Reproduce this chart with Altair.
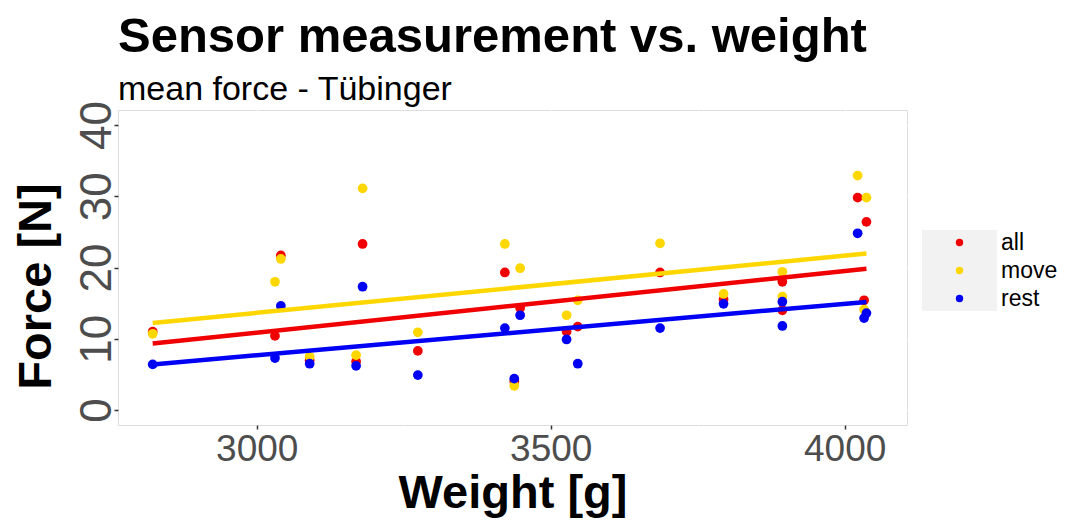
import altair as alt
import pandas as pd

# ---- data ----
weight = [2823, 3031, 3041, 3090, 3169, 3180, 3274, 3422, 3438, 3448,
          3527, 3546, 3686, 3794, 3894, 3894, 4022, 4037, 4033]
force_all = [11.0, 10.4, 21.7, 7.0, 6.8, 23.3, 8.3, 19.3, 4.0, 14.3,
             11.0, 11.7, 19.3, 15.5, 18.0, 14.0, 29.8, 26.4, 15.4]
force_move = [10.7, 18.0, 21.2, 7.5, 7.7, 31.1, 10.9, 23.3, 3.4, 19.9,
              13.3, 15.4, 23.4, 16.3, 19.4, 15.9, 32.9, 29.8, 14.1]
force_rest = [6.4, 7.3, 14.6, 6.5, 6.2, 17.3, 4.9, 11.5, 4.4, 13.3,
              9.9, 6.5, 11.5, 14.9, 15.2, 11.8, 24.8, 13.6, 12.9]

series_names = ["all", "move", "rest"]
series_colors = ["#F00000", "#FFD700", "#0000F5"]

x_ticks = [3000, 3250, 3500, 3750, 4000]
y_ticks = [0, 5, 10, 15, 20, 25, 30, 35, 40]

rows = []
for name, vals in zip(series_names, [force_all, force_move, force_rest]):
    for w, f in zip(weight, vals):
        rows.append({"weight": w, "force": f, "series": name})
df = pd.DataFrame(rows)

W, H = 789, 315

x_scale = alt.Scale(domain=[2764, 4106], nice=False, zero=False)
y_scale = alt.Scale(domain=[-2.1, 42.1], nice=False, zero=False)
color_scale = alt.Scale(domain=series_names, range=series_colors)

major_x = "datum.value % 500 === 0"
major_y = "datum.value % 10 === 0"

x_axis = alt.Axis(
    values=x_ticks,
    title="Weight [g]",
    labelExpr=f"{major_x} ? datum.label : ''",
    format="d",
    gridColor="white",
    gridWidth={"condition": {"test": major_x, "value": 2}, "value": 1},
    tickOpacity={"condition": {"test": major_x, "value": 1}, "value": 0},
    tickColor="#333333", tickSize=4, tickWidth=1.5,
    domain=False,
    labelFont="Liberation Sans", labelFontSize=37, labelColor="#4D4D4D",
    labelPadding=2,
    titleFont="Liberation Sans", titleFontSize=47, titleFontWeight="bold",
    titleColor="black", titleBaseline="alphabetic", titleY=82,
)
y_axis = alt.Axis(
    values=y_ticks,
    title="Force [N]",
    labelExpr=f"{major_y} ? datum.label : ''",
    gridColor="white",
    gridWidth={"condition": {"test": major_y, "value": 2}, "value": 1},
    tickOpacity={"condition": {"test": major_y, "value": 1}, "value": 0},
    tickColor="#333333", tickSize=4, tickWidth=1.5,
    domain=False,
    labelAngle=270, labelAlign="center", labelBaseline="alphabetic",
    labelFont="Liberation Sans", labelFontSize=44, labelColor="#4D4D4D",
    labelPadding=4,
    titleFont="Liberation Sans", titleFontSize=47, titleFontWeight="bold",
    titleColor="black", titleAngle=270, titleBaseline="alphabetic",
    titleAlign="center", titleX=-68, titleY=176,
)

base = alt.Chart(df)

points = base.mark_circle(size=95, opacity=1).encode(
    x=alt.X("weight:Q", scale=x_scale, axis=x_axis),
    y=alt.Y("force:Q", scale=y_scale, axis=y_axis),
    color=alt.Color(
        "series:N", scale=color_scale,
        legend=alt.Legend(
            title=None, orient="none", legendX=830, legendY=121,
            symbolType="circle", symbolSize=55, symbolStrokeWidth=0,
            labelFont="Liberation Sans", labelFontSize=23, labelColor="black",
            labelOffset=30, rowPadding=4, padding=0,
        ),
    ),
    order=alt.Order("series:N"),
)

lines = base.transform_regression(
    "weight", "force", groupby=["series"]
).mark_line(strokeWidth=4.5).encode(
    x=alt.X("weight:Q", scale=x_scale),
    y=alt.Y("force:Q", scale=y_scale),
    color=alt.Color("series:N", scale=color_scale, legend=None),
)

legend_box = alt.Chart(alt.Data(values=[{"k": 1}])).mark_rect(
    color="#F2F2F2"
).encode(
    x=alt.value(804), x2=alt.value(879),
    y=alt.value(120), y2=alt.value(201),
)

chart = alt.layer(legend_box, points, lines).properties(
    width=W, height=H,
    autosize=alt.AutoSizeParams(type="none"),
    padding={"left": 110, "top": 102, "right": 160, "bottom": 93},
    title=alt.Title(
        "Sensor measurement vs. weight",
        subtitle="mean force - Tübinger",
        anchor="start", frame="group",
        font="Liberation Sans", fontSize=49, fontWeight="bold", color="black",
        subtitleFont="Liberation Sans", subtitleFontSize=34,
        subtitleColor="black", subtitlePadding=11, offset=-7,
    ),
).configure_view(
    fill="#EBEBEB", stroke="transparent", strokeWidth=0
).configure(background="white")

chart.save("out.html", embed_options={"renderer": "svg", "actions": False})
